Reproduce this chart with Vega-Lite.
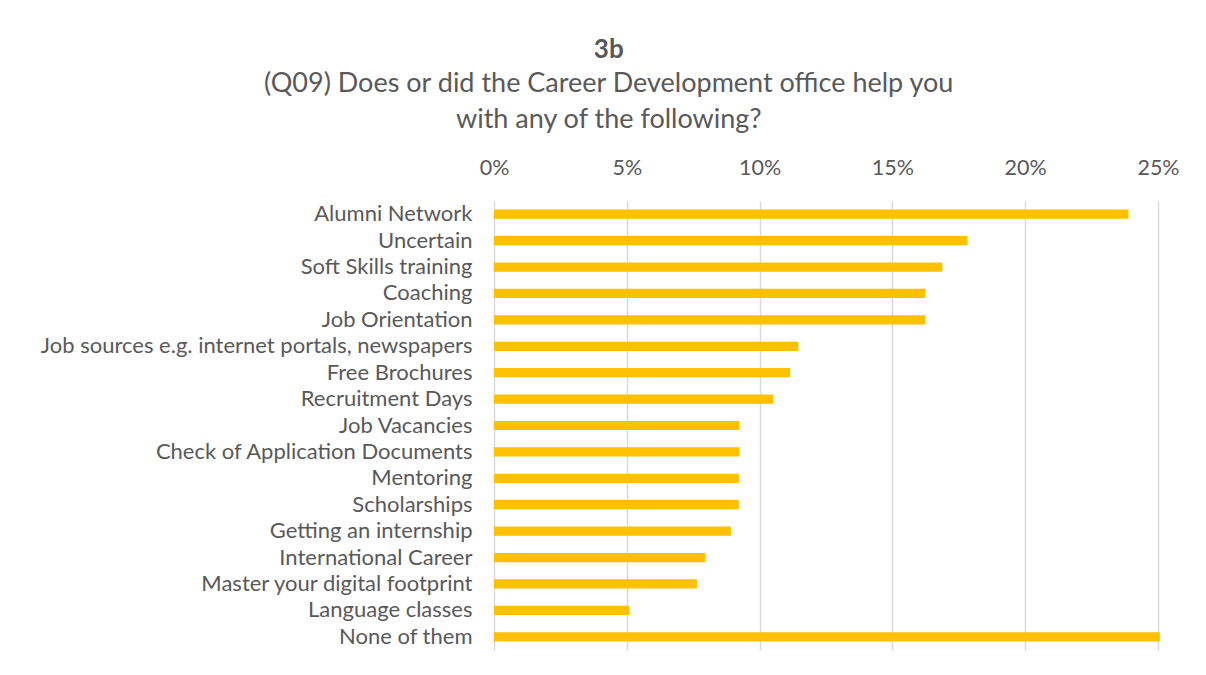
{
  "$schema": "https://vega.github.io/schema/vega-lite/v6.json",
  "width": 664,
  "height": 449,
  "autosize": {"type": "none"},
  "padding": {"left": 494, "top": 201, "right": 48, "bottom": 25},
  "background": "white",
  "title": {
    "text": "3b",
    "subtitle": ["(Q09) Does or did the Career Development office help you", "with any of the following?"],
    "anchor": "middle",
    "frame": "bounds",
    "font": "Lato",
    "fontSize": 26,
    "fontWeight": "bold",
    "color": "#595959",
    "subtitleFont": "Lato",
    "subtitleFontSize": 27,
    "subtitleColor": "#595959",
    "subtitleLineHeight": 36,
    "subtitlePadding": 8,
    "offset": 24,
    "dx": -1
  },
  "data": {
    "values": [
      {"item": "Alumni Network", "share": 0.2389},
      {"item": "Uncertain", "share": 0.1783},
      {"item": "Soft Skills training", "share": 0.1688},
      {"item": "Coaching", "share": 0.1624},
      {"item": "Job Orientation", "share": 0.1624},
      {"item": "Job sources e.g. internet portals, newspapers\u00a0", "share": 0.1146},
      {"item": "Free Brochures\u00a0", "share": 0.1115},
      {"item": "Recruitment Days", "share": 0.1051},
      {"item": "Job Vacancies", "share": 0.0924},
      {"item": "Check of Application Documents", "share": 0.0924},
      {"item": "Mentoring", "share": 0.0922},
      {"item": "Scholarships", "share": 0.0922},
      {"item": "Getting an internship", "share": 0.0892},
      {"item": "International Career", "share": 0.0796},
      {"item": "Master your digital footprint\u00a0", "share": 0.0764},
      {"item": "Language classes", "share": 0.051},
      {"item": "None of them", "share": 0.2507}
    ]
  },
  "mark": {"type": "bar", "color": "#FFC000", "clip": false},
  "encoding": {
    "y": {
      "field": "item",
      "type": "nominal",
      "sort": null,
      "scale": {"paddingInner": 0.65, "paddingOuter": 0.325},
      "axis": {
        "title": null,
        "ticks": false,
        "domain": false,
        "labelFont": "Lato",
        "labelFontSize": 22,
        "labelColor": "#595959",
        "labelPadding": 22,
        "labelLimit": 0
      }
    },
    "x": {
      "field": "share",
      "type": "quantitative",
      "scale": {"domain": [0, 0.25], "nice": false},
      "axis": {
        "orient": "top",
        "title": null,
        "format": ".0%",
        "values": [0, 0.05, 0.1, 0.15, 0.2, 0.25],
        "ticks": false,
        "domain": false,
        "grid": true,
        "gridColor": "#d9d9d9",
        "gridWidth": 1.5,
        "labelFont": "Lato",
        "labelFontSize": 21.5,
        "labelColor": "#595959",
        "labelPadding": 22,
        "labelFlush": false
      }
    }
  },
  "config": {"view": {"stroke": null}}
}
